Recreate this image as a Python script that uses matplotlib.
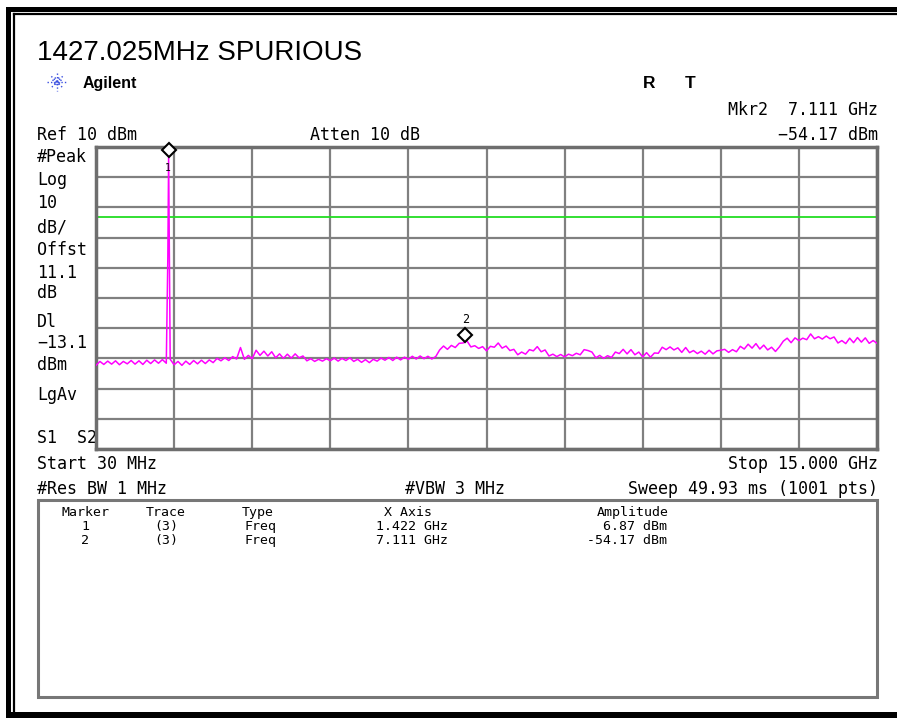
import numpy as np
import matplotlib
matplotlib.use('Agg')
import matplotlib.pyplot as plt
from matplotlib.patches import Rectangle
from matplotlib.transforms import offset_copy

# sweep settings
start_ghz = 0.03
stop_ghz = 15.0
ref_dbm = 10
db_div = 10
display_line = -13.1

# trace (201 samples across the sweep)
trace_dbm = [
    -62.3, -61.0, -62.0, -60.9, -61.9, -60.8, -62.1, -61.0, -61.8, -60.7,
    -61.9, -60.8, -62.0, -60.6, -61.7, -60.5, -61.6, -60.4, -61.6, -60.3,
    -62.1, -61.0, -62.3, -60.9, -62.0, -60.7, -61.8, -60.6, -61.7, -60.5,
    -61.4, -60.0, -60.8, -59.8, -60.7, -59.4, -60.2, -56.4, -60.3, -59.0,
    -60.1, -57.3, -59.0, -57.6, -59.2, -57.8, -59.8, -58.5, -60.0, -58.6,
    -59.9, -58.5, -59.8, -59.2, -60.8, -60.1, -61.0, -60.3, -60.9, -60.1,
    -60.8, -59.9, -60.9, -60.0, -60.7, -59.8, -61.0, -60.3, -61.3, -60.4,
    -61.4, -60.3, -60.9, -59.9, -60.6, -59.7, -60.7, -59.6, -60.5, -59.6,
    -60.3, -59.3, -60.2, -59.2, -60.1, -59.3, -60.2, -59.4, -57.2, -55.9,
    -57.0, -55.7, -56.4, -55.0, -54.9, -54.2, -56.2, -55.8, -56.7, -56.1,
    -57.5, -56.0, -56.3, -54.9, -56.6, -55.9, -57.4, -57.0, -58.8, -57.9,
    -58.6, -57.1, -57.5, -56.1, -57.8, -57.2, -59.2, -58.6, -59.4, -58.7,
    -59.5, -58.6, -59.1, -58.3, -58.8, -57.1, -57.4, -57.9, -59.8, -59.0,
    -60.0, -59.1, -59.7, -57.9, -58.4, -57.0, -58.5, -57.1, -58.8, -57.9,
    -59.5, -58.1, -59.6, -58.2, -58.3, -56.3, -57.1, -56.2, -57.2, -56.5,
    -58.0, -56.4, -58.1, -57.4, -58.4, -57.6, -58.6, -57.3, -58.5, -57.5,
    -57.3, -57.0, -58.0, -57.1, -57.8, -56.0, -56.9, -55.3, -56.6, -55.1,
    -56.9, -55.6, -57.2, -56.3, -57.7, -56.2, -54.3, -53.3, -54.8, -53.2,
    -54.1, -53.3, -53.8, -51.9, -53.5, -52.8, -53.6, -52.6, -53.5, -52.9,
    -54.9, -54.1, -55.1, -53.3, -54.8, -53.1, -54.6, -53.2, -55.0, -54.1,
    -55.0,
]
# carrier samples
peak_ghz = [1.407, 1.422]
peak_dbm = [-26.4, 6.87]

# markers
mkr_id = ['1', '2']
mkr_trace = ['(3)', '(3)']
mkr_type = ['Freq', 'Freq']
mkr_ghz = [1.422, 7.111]
mkr_dbm = [6.87, -54.17]

freq = np.linspace(start_ghz, stop_ghz, len(trace_dbm))
idx = np.searchsorted(freq, peak_ghz)
freq = np.insert(freq, idx, peak_ghz)
level = np.insert(np.array(trace_dbm), idx, peak_dbm)

fig = plt.figure(figsize=(8.97, 7.2), dpi=100)
fig.patch.set_facecolor('white')

# background layer in pixel coords for frame and text
bg = fig.add_axes([0, 0, 1, 1])
bg.set_xlim(0, 897)
bg.set_ylim(720, 0)
bg.axis('off')

# frame
bg.add_patch(Rectangle((6, 7), 891, 5, color='black', lw=0))
bg.add_patch(Rectangle((6, 7), 5, 711, color='black', lw=0))
bg.add_patch(Rectangle((6, 712), 891, 6, color='black', lw=0))
bg.plot([14, 897], [14, 14], color='black', lw=1.6)
bg.plot([14, 14], [14, 712], color='black', lw=1.6)

mono = 'DejaVu Sans Mono'
bg.text(37, 60, '1427.025MHz SPURIOUS', fontsize=20, family='Liberation Sans', va='baseline')
bg.text(83, 88, 'Agilent', fontsize=11.5, family='Liberation Sans', weight='bold', va='baseline')
# agilent spark logo
for a, r in zip([0, 45, 90, 135, 22.5, 67.5, 112.5, 157.5], [10, 8, 9, 8, 5, 5, 5, 5]):
    t = np.radians(a)
    bg.plot([57 - r * np.cos(t), 57 + r * np.cos(t)], [82 - r * np.sin(t), 82 + r * np.sin(t)],
            color='#3a4fe0', lw=1.0, ls=(0, (1, 1.5)))
bg.text(643, 88, 'R', fontsize=12.5, family='Liberation Sans', weight='bold', va='baseline')
bg.text(685, 88, 'T', fontsize=12.5, family='Liberation Sans', weight='bold', va='baseline')

bg.text(878, 115, 'Mkr2  7.111 GHz', fontsize=12, family=mono, ha='right', va='baseline')
bg.text(878, 140, '\u221254.17 dBm', fontsize=12, family=mono, ha='right', va='baseline')
bg.text(37, 140, 'Ref 10 dBm', fontsize=12, family=mono, va='baseline')
bg.text(310, 140, 'Atten 10 dB', fontsize=12, family=mono, va='baseline')

left_labels = ['#Peak', 'Log', '10', 'dB/', 'Offst', '11.1', 'dB', 'Dl', '\u221213.1', 'dBm', 'LgAv', 'S1  S2']
left_base = [162, 185, 208, 232, 255, 278, 298, 327, 348, 370, 400, 443]
for s, y in zip(left_labels, left_base):
    bg.text(37, y, s, fontsize=12, family=mono, va='baseline')

bg.text(37, 469, 'Start 30 MHz', fontsize=12, family=mono, va='baseline')
bg.text(878, 469, 'Stop 15.000 GHz', fontsize=12, family=mono, ha='right', va='baseline')
bg.text(37, 494, '#Res BW 1 MHz', fontsize=12, family=mono, va='baseline')
bg.text(405, 494, '#VBW 3 MHz', fontsize=12, family=mono, va='baseline')
bg.text(878, 494, 'Sweep 49.93 ms (1001 pts)', fontsize=12, family=mono, ha='right', va='baseline')

# marker table
bg.add_patch(Rectangle((38, 500), 839, 197, fill=False, edgecolor='#777777', lw=2.2))
tfs = 9.5
bg.text(85, 516, 'Marker', fontsize=tfs, family=mono, ha='center', va='baseline')
bg.text(166, 516, 'Trace', fontsize=tfs, family=mono, ha='center', va='baseline')
bg.text(242, 516, 'Type', fontsize=tfs, family=mono, va='baseline')
bg.text(408, 516, 'X Axis', fontsize=tfs, family=mono, ha='center', va='baseline')
bg.text(633, 516, 'Amplitude', fontsize=tfs, family=mono, ha='center', va='baseline')
for k in range(len(mkr_id)):
    yb = 530 + 14 * k
    bg.text(85, yb, mkr_id[k], fontsize=tfs, family=mono, ha='center', va='baseline')
    bg.text(166, yb, mkr_trace[k], fontsize=tfs, family=mono, ha='center', va='baseline')
    bg.text(245, yb, mkr_type[k], fontsize=tfs, family=mono, va='baseline')
    bg.text(412, yb, f'{mkr_ghz[k]:.3f} GHz', fontsize=tfs, family=mono, ha='center', va='baseline')
    bg.text(667, yb, f'{mkr_dbm[k]:.2f} dBm', fontsize=tfs, family=mono, ha='right', va='baseline')

# graticule
ax = fig.add_axes([96 / 897, 1 - 449 / 720, 781 / 897, 302 / 720])
ax.set_xlim(start_ghz, stop_ghz)
ax.set_ylim(ref_dbm - 10 * db_div, ref_dbm)
ax.set_xticks(np.linspace(start_ghz, stop_ghz, 11))
ax.set_yticks(np.arange(ref_dbm - 10 * db_div, ref_dbm + 1, db_div))
ax.tick_params(length=0, labelbottom=False, labelleft=False)
ax.grid(True, color='#808080', lw=1.6)
ax.set_axisbelow(True)
for sp in ax.spines.values():
    sp.set_color('#6e6e6e')
    sp.set_linewidth(2.5)

ax.axhline(display_line, color='#22dd22', lw=1.3, zorder=2)
ax.plot(freq, level, color='#ff00ff', lw=1.1, zorder=3)

up = offset_copy(ax.transData, fig=fig, x=0, y=6, units='dots')
ax.plot(mkr_ghz, mkr_dbm, ls='none', marker='D', ms=7, mfc='white', mec='black', mew=1.5,
        transform=up, zorder=5, clip_on=False)
ax.annotate(mkr_id[0], (mkr_ghz[0], mkr_dbm[0]), xytext=(-1, -12), textcoords='offset pixels',
            ha='center', va='center', fontsize=7, family=mono, zorder=6)
ax.annotate(mkr_id[1], (mkr_ghz[1], mkr_dbm[1]), xytext=(0, 21), textcoords='offset pixels',
            ha='center', va='center', fontsize=8.5, family=mono, zorder=6)

plt.savefig('out.png', dpi=100)
